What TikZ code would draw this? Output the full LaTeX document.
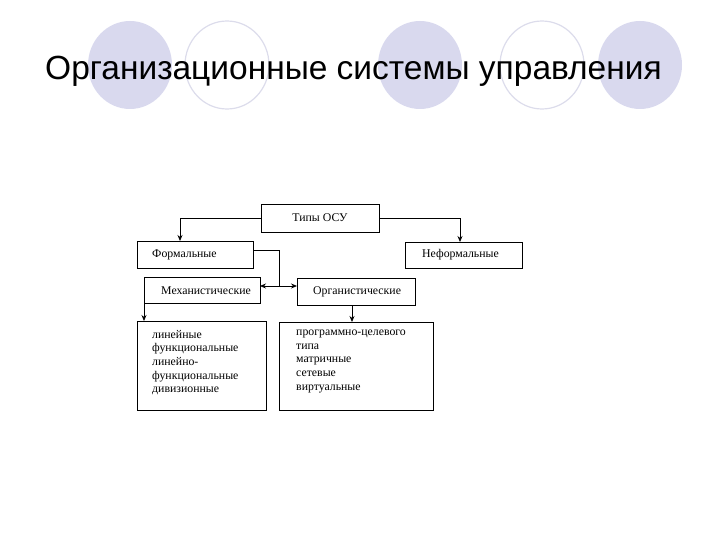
\documentclass[tikz,border=0pt]{standalone}
\usepackage{fontspec}
\usetikzlibrary{arrows.meta}
\setmainfont{Liberation Serif}
\newfontfamily\titlefont{Liberation Sans}
\definecolor{lav}{RGB}{217,217,238}
\definecolor{lavline}{RGB}{220,220,235}
\begin{document}
\begin{tikzpicture}[x=1pt,y=-1pt,
  bx/.style={draw,line width=0.8pt},
  lab/.style={font=\fontsize{11.8}{13}\selectfont,anchor=west,inner sep=0pt},
  arr/.style={-{Stealth[length=6pt,width=5pt]},line width=0.8pt}]
\useasboundingbox (0,0) rectangle (720,540);
\foreach \cx in {130,420,640} \fill[lav] (\cx,65) ellipse [x radius=42,y radius=44];
\foreach \cx in {227,542} \draw[lavline,line width=1.2pt] (\cx,65) ellipse [x radius=42,y radius=44];
\node[font=\titlefont\fontsize{33.5}{36}\selectfont,anchor=base west,inner sep=0pt] (title) at (45,80) {Организационные системы управления};
% boxes
\draw[bx] (261,204) rectangle (379,232);
\node[lab,anchor=center] (t) at (320,218) {Типы ОСУ};
\coordinate (tl) at (261,218); \coordinate (tr) at (379,218);
\draw[bx] (137,241) rectangle (253,268);
\node[lab] (f) at (152,255) {Формальные};
\draw[bx] (405,242) rectangle (522,268);
\node[lab] (nf) at (422,255) {Неформальные};
\draw[bx] (144,277) rectangle (260,303);
\node[lab] (m) at (161,291) {Механистические};
\draw[bx] (297,278) rectangle (415,305);
\node[lab] (o) at (313,292) {Органистические};
\draw[bx] (137,321) rectangle (266,410);
\node[lab,anchor=north west,align=left,font=\fontsize{11.8}{13.6}\selectfont] (l) at (152,330) {линейные\\функциональные\\линейно-\\функциональные\\дивизионные};
\draw[bx] (279,322) rectangle (433,410);
\node[lab,anchor=north west,align=left,font=\fontsize{11.8}{13.6}\selectfont] (r) at (296,330) {программно-целевого\\типа\\матричные\\сетевые\\виртуальные};
% connectors
\draw[arr] (tl) -| (180,241);
\draw[arr] (tr) -| (460,242);
\coordinate (fr) at (253,250);
\coordinate (j) at (279,286);
\draw[line width=0.8pt] (fr) -| (j);
\draw[arr] (j) -- (260,286);
\draw[arr] (j) -- (297,286);
\draw[arr] (144,303) -- (144,321);
\draw[arr] (352,305) -- (352,322);
\end{tikzpicture}
\end{document}
